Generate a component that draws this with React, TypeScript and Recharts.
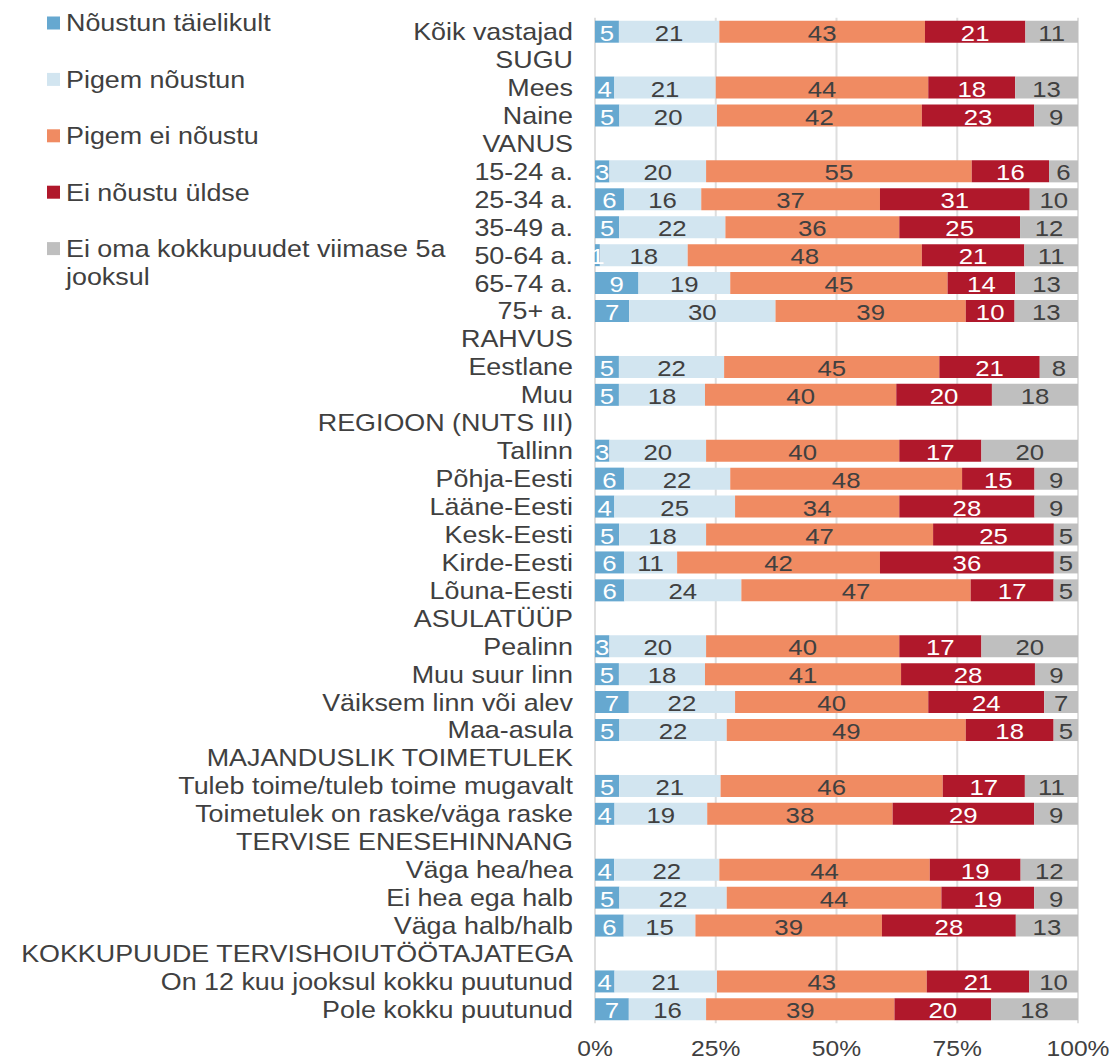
import { Bar, BarChart, CartesianGrid, LabelList, Legend, XAxis, YAxis } from 'recharts';

const FONT = '"Liberation Sans", Arial, sans-serif';
const TEXT = '#404040';
// the source image is a little wider than tall, so text is stretched sideways
const SX = 1.12;

const categories = [
  'Kõik vastajad',
  'SUGU',
  'Mees',
  'Naine',
  'VANUS',
  '15-24 a.',
  '25-34 a.',
  '35-49 a.',
  '50-64 a.',
  '65-74 a.',
  '75+ a.',
  'RAHVUS',
  'Eestlane',
  'Muu',
  'REGIOON (NUTS III)',
  'Tallinn',
  'Põhja-Eesti',
  'Lääne-Eesti',
  'Kesk-Eesti',
  'Kirde-Eesti',
  'Lõuna-Eesti',
  'ASULATÜÜP',
  'Pealinn',
  'Muu suur linn',
  'Väiksem linn või alev',
  'Maa-asula',
  'MAJANDUSLIK TOIMETULEK',
  'Tuleb toime/tuleb toime mugavalt',
  'Toimetulek on raske/väga raske',
  'TERVISE ENESEHINNANG',
  'Väga hea/hea',
  'Ei hea ega halb',
  'Väga halb/halb',
  'KOKKUPUUDE TERVISHOIUTÖÖTAJATEGA',
  'On 12 kuu jooksul kokku puutunud',
  'Pole kokku puutunud',
];

// null = group heading row (no bar)
const fullyAgree = [5, null, 4, 5, null, 3, 6, 5, 1, 9, 7, null, 5, 5, null, 3, 6, 4, 5, 6, 6, null, 3, 5, 7, 5, null, 5, 4, null, 4, 5, 6, null, 4, 7];
const ratherAgree = [21, null, 21, 20, null, 20, 16, 22, 18, 19, 30, null, 22, 18, null, 20, 22, 25, 18, 11, 24, null, 20, 18, 22, 22, null, 21, 19, null, 22, 22, 15, null, 21, 16];
const ratherDisagree = [43, null, 44, 42, null, 55, 37, 36, 48, 45, 39, null, 45, 40, null, 40, 48, 34, 47, 42, 47, null, 40, 41, 40, 49, null, 46, 38, null, 44, 44, 39, null, 43, 39];
const disagree = [21, null, 18, 23, null, 16, 31, 25, 21, 14, 10, null, 21, 20, null, 17, 15, 28, 25, 36, 17, null, 17, 28, 24, 18, null, 17, 29, null, 19, 19, 28, null, 21, 20];
const noContact = [11, null, 13, 9, null, 6, 10, 12, 11, 13, 13, null, 8, 18, null, 20, 9, 9, 5, 5, 5, null, 20, 9, 7, 5, null, 11, 9, null, 12, 9, 13, null, 10, 18];

const seriesNames = [
  'Nõustun täielikult',
  'Pigem nõustun',
  'Pigem ei nõustu',
  'Ei nõustu üldse',
  'Ei oma kokkupuudet viimase 5a jooksul',
];

const xTicks = [0, 0.25, 0.5, 0.75, 1];

const series = [
  { key: 'fullyAgree', name: seriesNames[0], values: fullyAgree, color: '#66A8D0', labelColor: '#FFFFFF' },
  { key: 'ratherAgree', name: seriesNames[1], values: ratherAgree, color: '#D2E5F0', labelColor: TEXT },
  { key: 'ratherDisagree', name: seriesNames[2], values: ratherDisagree, color: '#F08B62', labelColor: TEXT },
  { key: 'disagree', name: seriesNames[3], values: disagree, color: '#B0182B', labelColor: '#FFFFFF' },
  { key: 'noContact', name: seriesNames[4], values: noContact, color: '#BFBFBF', labelColor: TEXT },
];

const data = categories.map((name, i) => {
  const row: Record<string, string | number | null> = { name };
  series.forEach((s) => {
    row[s.key] = s.values[i];
  });
  return row;
});

function CategoryTick({ x, y, payload }: any) {
  return (
    <text
      transform={`translate(${x},${y}) scale(${SX},1)`}
      textAnchor="end"
      dominantBaseline="central"
      fontSize={24}
      fontFamily={FONT}
      fill={TEXT}
    >
      {payload.value}
    </text>
  );
}

function PercentTick({ x, y, payload }: any) {
  return (
    <text
      transform={`translate(${x},${y + 25}) scale(${SX},1)`}
      textAnchor="middle"
      dominantBaseline="central"
      fontSize={22}
      fontFamily={FONT}
      fill={TEXT}
    >
      {`${Math.round(payload.value * 100)}%`}
    </text>
  );
}

const makeLabel = (color: string) => (props: any) => {
  const { value } = props;
  if (value == null || typeof value !== 'number') return null;
  const box = props.viewBox ?? props;
  const { x, y, width, height } = box;
  if (!width) return null;
  return (
    <text
      transform={`translate(${x + width / 2},${y + height / 2 + 1}) scale(${SX},1)`}
      textAnchor="middle"
      dominantBaseline="central"
      style={{ fontSize: 23, fontFamily: FONT }}
      fill={color}
    >
      {value}
    </text>
  );
};

function LegendBox() {
  return (
    <svg width={470} height={300}>
      {series.map((s, i) => {
        const cy = 23 + i * 56.4;
        const last = i === series.length - 1;
        return (
          <g key={s.key}>
            <rect x={47} y={cy - 6.5} width={13} height={13} fill={s.color} />
            <text
              transform={`translate(66,${cy}) scale(${SX},1)`}
              dominantBaseline="central"
              fontSize={24}
              fontFamily={FONT}
              fill={TEXT}
            >
              {last ? 'Ei oma kokkupuudet viimase 5a' : s.name}
            </text>
            {last && (
              <text
                transform={`translate(66,${cy + 27.5}) scale(${SX},1)`}
                dominantBaseline="central"
                fontSize={24}
                fontFamily={FONT}
                fill={TEXT}
              >
                jooksul
              </text>
            )}
          </g>
        );
      })}
    </svg>
  );
}

export default function App() {
  return (
    <div style={{ position: 'absolute', left: 0, top: 0, width: 1114, height: 1062, background: '#fff' }}>
      <BarChart
        width={1114}
        height={1062}
        data={data}
        layout="vertical"
        stackOffset="expand"
        margin={{ top: 17.7, right: 36, bottom: 0, left: 0 }}
      >
        <CartesianGrid horizontal={false} stroke="#DEDEDE" strokeWidth={2} />
        <XAxis
          type="number"
          domain={[0, 1]}
          ticks={xTicks}
          interval={0}
          height={38.7}
          axisLine={false}
          tickLine={false}
          tickSize={0}
          tickMargin={0}
          tick={<PercentTick />}
        />
        <YAxis
          type="category"
          dataKey="name"
          width={595}
          interval={0}
          axisLine={false}
          tickLine={false}
          tickSize={0}
          tickMargin={22}
          tick={<CategoryTick />}
        />
        <Legend
          layout="horizontal"
          verticalAlign="middle"
          align="center"
          content={() => <LegendBox />}
          wrapperStyle={{ left: 0, top: 0, width: 470, height: 300 }}
        />
        {series.map((s) => (
          <Bar
            key={s.key}
            dataKey={s.key}
            name={s.name}
            stackId="a"
            fill={s.color}
            barSize={22}
            isAnimationActive={false}
          >
            <LabelList dataKey={s.key} content={makeLabel(s.labelColor)} />
          </Bar>
        ))}
      </BarChart>
    </div>
  );
}
